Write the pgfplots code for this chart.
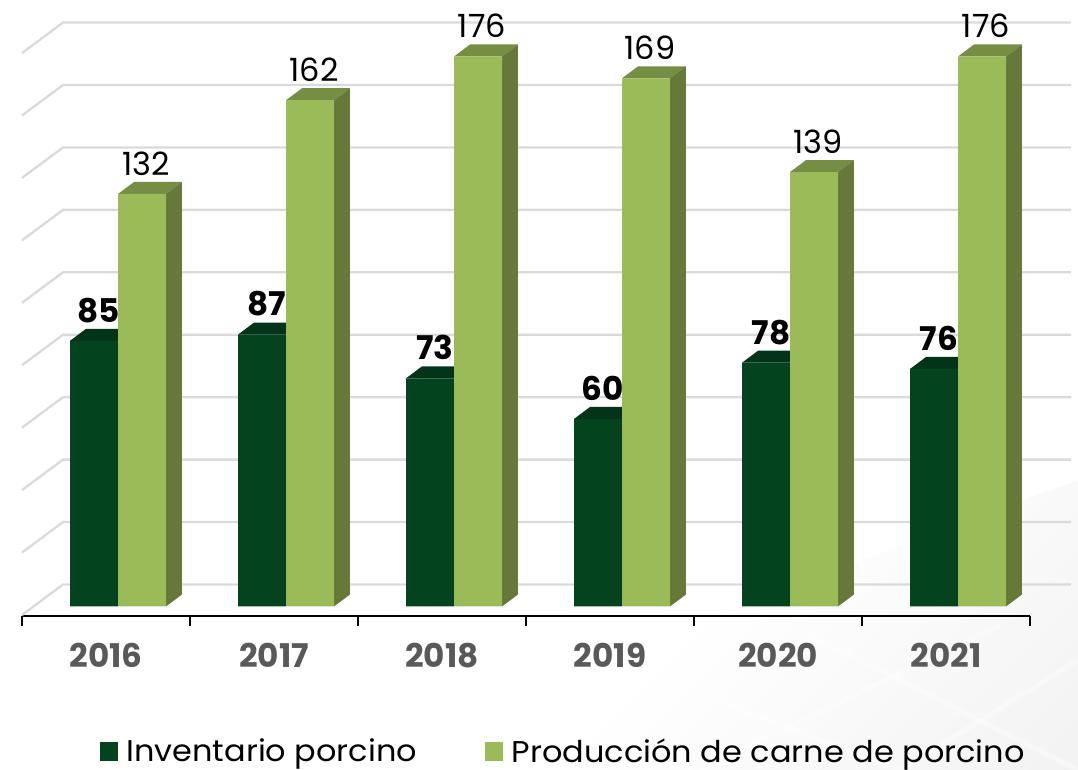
\documentclass[border=0pt]{standalone}
\usepackage{pgfplots}
\pgfplotsset{compat=1.18}
\usepackage{pgfplotstable}
\usepackage{fontspec}
\setmainfont{Poppins}
\newfontfamily\legfont[FakeStretch=1.065]{Poppins}
\definecolor{darkF}{HTML}{03441E}
\definecolor{darkT}{HTML}{033318}
\definecolor{lightF}{HTML}{9BBB59}
\definecolor{lightT}{HTML}{768E44}
\definecolor{lightS}{HTML}{66783A}
\definecolor{gridc}{HTML}{DADADA}
\definecolor{ticktxt}{HTML}{595959}
\pgfdeclareverticalshading{bgfade}{100bp}{color(0bp)=(black!7); color(50bp)=(white); color(100bp)=(white)}
\pgfplotstableread{
x inv prod
0 85 132
1 87 162
2 73 176
3 60 169
4 78 139
5 76 176
}\chartdata
% back wall grid line: left diagonal + horizontal, one per 20 units
\newcommand{\gridline}[1]{%
  \addplot[forget plot,gridc,line width=1.7pt,line join=round] coordinates {(-0.5,{-2.72+#1})(-0.256,{7.04+#1})(5.744,{7.04+#1})};}
% top and side faces of a 3D bar: left x, right x, value
\newcommand{\topface}[4]{%
  \addplot[forget plot,fill=#4,draw=none] coordinates {(#1,#3)(#2,#3)({#2+0.0952},{#3+3.84})({#1+0.0952},{#3+3.84})} -- cycle;}
\newcommand{\sideface}[3]{%
  \addplot[forget plot,fill=#3,draw=none] coordinates {(#1,0)({#1+0.0952},3.84)({#1+0.0952},{#2+3.84})(#1,#2)} -- cycle;}
\begin{document}
\begin{tikzpicture}
\path[use as bounding box] (0,0) rectangle (808.5pt,577.5pt);
\begin{scope}[shift={(0,577.5pt)},x=0.75pt,y=-0.75pt]
  \shade[shading=bgfade,shading angle=45] (300,770) -- (1078,480) -- (1078,770) -- cycle;
  \begin{scope}
    \clip (300,770) -- (1078,480) -- (1078,770) -- cycle;
    \foreach \a/\b/\c/\d in {480/770/780/620, 700/770/1000/625, 900/770/1078/660, 560/640/900/770, 800/630/1078/770}
      \draw[white,line width=4pt,opacity=.35] (\a,\b) -- (\c,\d);
  \end{scope}
\end{scope}
\begin{axis}[
  at={(16.5pt,115.5pt)}, anchor=south west,
  scale only axis, width=756pt, height=462pt,
  xmin=-0.5, xmax=5.5, ymin=-3.04, ymax=194.08,
  clip=false,
  axis x line*=bottom, axis y line=none,
  axis line style={black,line width=1.5pt},
  xtick={0,1,2,3,4,5},
  xticklabels={2016,2017,2018,2019,2020,2021},
  minor xtick={-0.5,0.5,1.5,2.5,3.5,4.5,5.5},
  major tick length=0pt, minor tick length=7.5pt,
  tick align=outside,
  minor tick style={black,line width=0.8pt},
  xticklabel style={font=\fontsize{24.5}{24.5}\selectfont\bfseries,text=ticktxt,yshift=-17pt},
  ytick=\empty,
  /pgf/number format/assume math mode=true,
  legend columns=2,
  legend style={at={(0.077,-0.2195)},anchor=west,draw=none,fill=none,inner sep=0pt,outer sep=0pt,
    font=\fontsize{22.5}{22.5}\selectfont\legfont,
    /tikz/column 2/.style={column sep=44pt},
    nodes={inner xsep=7pt,inner ysep=0pt}},
  legend cell align=left,
]
\addlegendimage{legend image code/.code={\fill[darkF] (0pt,-6.6pt) rectangle (12.75pt,6.4pt);}}
\addlegendentry{Inventario porcino}
\addlegendimage{legend image code/.code={\fill[lightF] (0pt,-6.6pt) rectangle (12.75pt,6.4pt);}}
\addlegendentry{Producción de carne de porcino}

\gridline{0}\gridline{19.98}\gridline{39.96}\gridline{59.94}\gridline{79.92}
\gridline{99.9}\gridline{119.88}\gridline{139.86}\gridline{159.84}\gridline{179.82}

% dark series
\topface{-0.2143}{0.0714}{85}{darkT}
\topface{0.7857}{1.0714}{87}{darkT}
\topface{1.7857}{2.0714}{73}{darkT}
\topface{2.7857}{3.0714}{60}{darkT}
\topface{3.7857}{4.0714}{78}{darkT}
\topface{4.7857}{5.0714}{76}{darkT}
\addplot[forget plot,ybar,bar width=0.2857,bar shift=-0.0714,fill=darkF,draw=none] table[x=x,y=inv] {\chartdata};
\addplot[forget plot,draw=none,mark=none,nodes near coords,
  every node near coord/.append style={anchor=center,yshift=23pt,font=\fontsize{24.5}{24.5}\selectfont\bfseries,text=black,inner sep=0pt}]
  table[x expr=\thisrow{x}-0.042,y=inv] {\chartdata};

% light series
\topface{0.0714}{0.3571}{132}{lightT}
\topface{1.0714}{1.3571}{162}{lightT}
\topface{2.0714}{2.3571}{176}{lightT}
\topface{3.0714}{3.3571}{169}{lightT}
\topface{4.0714}{4.3571}{139}{lightT}
\topface{5.0714}{5.3571}{176}{lightT}
\sideface{0.3571}{132}{lightS}
\sideface{1.3571}{162}{lightS}
\sideface{2.3571}{176}{lightS}
\sideface{3.3571}{169}{lightS}
\sideface{4.3571}{139}{lightS}
\sideface{5.3571}{176}{lightS}
\addplot[forget plot,ybar,bar width=0.2857,bar shift=0.2143,fill=lightF,draw=none] table[x=x,y=prod] {\chartdata};
\addplot[forget plot,draw=none,mark=none,nodes near coords,
  every node near coord/.append style={anchor=center,yshift=23pt,font=\fontsize{24}{24}\selectfont,text=black,inner sep=0pt}]
  table[x expr=\thisrow{x}+0.238,y=prod] {\chartdata};
\end{axis}
\end{tikzpicture}
\end{document}
